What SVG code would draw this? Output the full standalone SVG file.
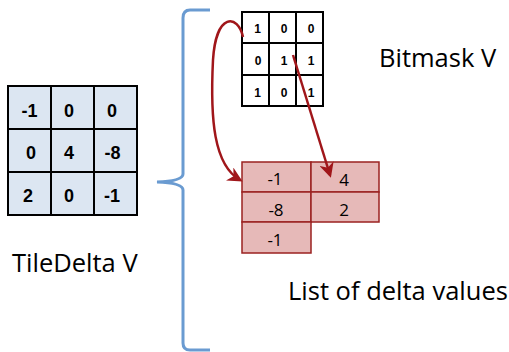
<svg xmlns="http://www.w3.org/2000/svg" width="509" height="352" viewBox="0 0 509 352">
<style>
.tile{fill:#dce6f2;stroke:#000;stroke-width:2}
.bm{fill:#fff;stroke:#000;stroke-width:2}
.li{fill:#e6b9b8;stroke:#9b2220;stroke-width:1.5}
.bt{font-family:"Liberation Sans",Arial,sans-serif;font-weight:bold;text-anchor:middle;fill:#000}
.tn{font-size:18px}
.bn{font-size:12px}
.ln{font-family:"Open Sans","Liberation Sans",sans-serif;font-size:17px;text-anchor:middle;fill:#000}
.lab{font-family:"Open Sans","Liberation Sans",sans-serif;font-size:25.5px;fill:#000}
.arr{fill:none;stroke:#a0161a;stroke-width:2.5;marker-end:url(#ah)}
</style>
<defs>
<marker id="ah" viewBox="0 0 10 10" refX="8" refY="5" markerWidth="6" markerHeight="6" orient="auto" markerUnits="strokeWidth">
<path d="M0,0 L10,5 L0,10 L3,5 z" fill="#a0161a"/>
</marker>
</defs>
<g id="tiledelta">
<rect class="tile" x="8" y="86" width="43" height="43"/>
<rect class="tile" x="51" y="86" width="43" height="43"/>
<rect class="tile" x="94" y="86" width="43" height="43"/>
<rect class="tile" x="8" y="129" width="43" height="43"/>
<rect class="tile" x="51" y="129" width="43" height="43"/>
<rect class="tile" x="94" y="129" width="43" height="43"/>
<rect class="tile" x="8" y="172" width="43" height="43"/>
<rect class="tile" x="51" y="172" width="43" height="43"/>
<rect class="tile" x="94" y="172" width="43" height="43"/>
<text class="bt tn" x="29.5" y="117">-1</text>
<text class="bt tn" x="69" y="117">0</text>
<text class="bt tn" x="112" y="117">0</text>
<text class="bt tn" x="31" y="159">0</text>
<text class="bt tn" x="69" y="159">4</text>
<text class="bt tn" x="112.5" y="159">-8</text>
<text class="bt tn" x="28" y="202">2</text>
<text class="bt tn" x="69" y="202">0</text>
<text class="bt tn" x="112" y="202">-1</text>
</g>
<g id="tiledelta-label"><text class="lab" x="12" y="272">TileDelta V</text></g>
<g id="brace"><path d="M210,10 L190,10 Q183,10 183,18 L183,174 Q183,181 157,182 Q183,183 183,190 L183,343 Q183,350 190,350 L210,350" fill="none" stroke="#6a9bd1" stroke-width="3"/></g>
<g id="bitmask">
<rect class="bm" x="242" y="12" width="27" height="31"/>
<rect class="bm" x="269" y="12" width="27" height="31"/>
<rect class="bm" x="296" y="12" width="27" height="31"/>
<rect class="bm" x="242" y="43" width="27" height="32"/>
<rect class="bm" x="269" y="43" width="27" height="32"/>
<rect class="bm" x="296" y="43" width="27" height="32"/>
<rect class="bm" x="242" y="75" width="27" height="31"/>
<rect class="bm" x="269" y="75" width="27" height="31"/>
<rect class="bm" x="296" y="75" width="27" height="31"/>
<text class="bt bn" x="257.5" y="33">1</text>
<text class="bt bn" x="284" y="33">0</text>
<text class="bt bn" x="311" y="33">0</text>
<text class="bt bn" x="258" y="65">0</text>
<text class="bt bn" x="284" y="65">1</text>
<text class="bt bn" x="311" y="65">1</text>
<text class="bt bn" x="257.5" y="97">1</text>
<text class="bt bn" x="284" y="97">0</text>
<text class="bt bn" x="311" y="97">1</text>
</g>
<g id="bitmask-label"><text class="lab" x="379" y="67">Bitmask V</text></g>
<g id="list">
<rect class="li" x="242" y="162" width="69" height="30"/>
<rect class="li" x="311" y="162" width="68" height="30"/>
<rect class="li" x="242" y="192" width="69" height="30"/>
<rect class="li" x="311" y="192" width="68" height="30"/>
<rect class="li" x="242" y="222" width="69" height="31"/>
<text class="ln" x="275" y="185">-1</text>
<text class="ln" x="344" y="186">4</text>
<text class="ln" x="276" y="216">-8</text>
<text class="ln" x="344" y="216">2</text>
<text class="ln" x="275" y="246">-1</text>
</g>
<g id="list-label"><text class="lab" x="288" y="300">List of delta values</text></g>
<g id="connectors">
<path class="arr" d="M243,37 C238,14 216,12 213,60 C210,120 214,165 240,180"/>
<path class="arr" d="M293,55 L330,175"/>
</g>
</svg>
